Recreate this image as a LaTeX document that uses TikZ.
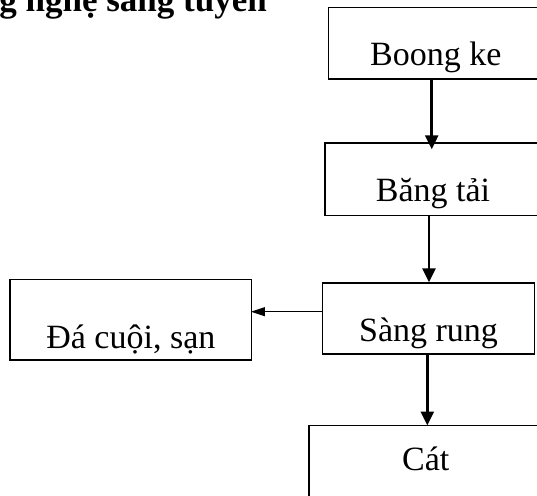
\documentclass[tikz,border=0pt]{standalone}
\usepackage{fontspec}
\setmainfont{Liberation Serif}
\usetikzlibrary{arrows.meta}
\begin{document}
\begin{tikzpicture}[x=1pt,y=-1pt,
  box/.style={draw,line width=1.4pt,rectangle,inner sep=0pt,align=center,
    font=\fontsize{34}{40}\selectfont},
  varrow/.style={line width=2.6pt,-{Triangle[length=14pt,width=13pt]}},
  harrow/.style={line width=1.2pt,-{Triangle[length=14pt,width=9pt]}},
  titletext/.style={font=\fontsize{35}{40}\selectfont\bfseries,inner sep=0pt}]
\useasboundingbox (0,0) rectangle (537,495);
% title (top cut off)
\node[titletext,anchor=base east] (title) at (267,12) {công nghệ sàng tuyển};
% boxes
\node[box,minimum width=215pt,text height=57.3pt,text depth=14pt] (bk) at (435.8,43.35) {Boong ke};
\node[box,minimum width=216pt,text height=58pt,text depth=14.7pt] (bt) at (433,179.35) {Băng tải};
\node[box,minimum width=211.6pt,text height=58.7pt,text depth=12.3pt] (sr) at (428.5,318.5) {Sàng rung};
\node[box,minimum width=241.7pt,text height=69pt,text depth=11.7pt] (dc) at (130.85,319.65) {Đá cuội, sạn};
\node[box,minimum width=233.6pt,text height=45.5pt,text depth=70pt,anchor=north] (cat) at (425.8,424.5) {Cát};
% connectors
\draw[varrow,shorten >=-7pt] (bk.south -| 431.7,0) -- (bt.north -| 431.7,0);
\draw[varrow] (bt.south -| 429,0) -- (sr.north -| 429,0);
\draw[varrow,shorten >=-1pt] (sr.south -| 427.3,0) -- (cat.north -| 427.3,0);
\draw[harrow,shorten >=-1.5pt] (sr.west |- 0,311.7) -- (dc.east |- 0,311.7);
\end{tikzpicture}
\end{document}
